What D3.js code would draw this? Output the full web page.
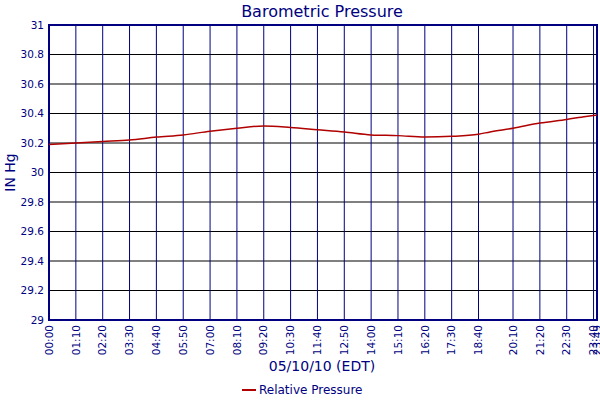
<!DOCTYPE html>
<html><head><meta charset="utf-8">
<script src="https://cdn.jsdelivr.net/npm/d3@7"></script>
<style>body{margin:0;background:#fff}text{font-family:Verdana,"DejaVu Sans",sans-serif}</style>
</head><body><svg id="c" width="600" height="400"></svg>
<script>
// minutes since midnight -> pressure (in Hg)
const times = [0, 70, 140, 210, 280, 350, 420, 490, 560, 630, 700, 770, 840, 910, 980, 1050, 1120, 1150, 1210, 1280, 1350, 1400, 1429];
const values = [30.19, 30.20, 30.21, 30.22, 30.24, 30.255, 30.28, 30.30, 30.315, 30.305, 30.29, 30.275, 30.255, 30.25, 30.24, 30.245, 30.26, 30.275, 30.30, 30.335, 30.36, 30.38, 30.39];
const tickMins = [0,70,140,210,280,350,420,490,560,630,700,770,840,910,980,1050,1120,1210,1280,1350,1420,1429];
const yTicks = [29,29.2,29.4,29.6,29.8,30,30.2,30.4,30.6,30.8,31];

const svg = d3.select("#c");
const margin = {top: 25, right: 3, bottom: 80, left: 49};
const width = 600 - margin.left - margin.right;
const height = 400 - margin.top - margin.bottom;
const navy = "#000080";
const fmt = m => String(Math.floor(m / 60)).padStart(2, "0") + ":" + String(m % 60).padStart(2, "0");

const x = d3.scaleLinear().domain([0, 1429]).range([0, width]);
const y = d3.scaleLinear().domain([29, 31]).range([height, 0]);

const chart = svg.append("g").attr("transform", `translate(${margin.left},${margin.top})`);

// Grid
chart.selectAll(".hg").data(yTicks).enter().append("line")
    .attr("x1", 0).attr("x2", width)
    .attr("y1", d => y(d)).attr("y2", d => y(d))
    .attr("stroke", "#000").attr("stroke-width", 1);
chart.selectAll(".vg").data(tickMins).enter().append("line")
    .attr("x1", d => x(d)).attr("x2", d => x(d))
    .attr("y1", 0).attr("y2", height)
    .attr("stroke", navy).attr("stroke-width", 1);
chart.append("rect").attr("width", width).attr("height", height)
    .attr("fill", "none").attr("stroke", navy).attr("stroke-width", 2);

// Axes labels
chart.selectAll(".yl").data(yTicks).enter().append("text")
    .attr("x", -5).attr("y", d => y(d)).attr("dy", "0.35em")
    .attr("text-anchor", "end").attr("font-size", 10.5).attr("fill", navy)
    .text(d => d3.format("~g")(d));
chart.selectAll(".xl").data(tickMins).enter().append("text")
    .attr("transform", d => `translate(${x(d)},${height + 5}) rotate(-90)`)
    .attr("dy", "0.35em").attr("text-anchor", "end")
    .attr("font-size", 10.5).attr("fill", navy).text(fmt);

// Line
chart.append("path").datum(times.map((t, i) => [t, values[i]]))
    .attr("fill", "none").attr("stroke", "#b00000").attr("stroke-width", 1.5)
    .attr("d", d3.line().x(d => x(d[0])).y(d => y(d[1])).curve(d3.curveMonotoneX));

// Titles
svg.append("text").attr("x", 322).attr("y", 17).attr("text-anchor", "middle")
    .attr("font-size", 16).attr("fill", navy).text("Barometric Pressure");
svg.append("text").attr("x", 322).attr("y", 371).attr("text-anchor", "middle")
    .attr("font-size", 14).attr("fill", navy).text("05/10/10 (EDT)");
svg.append("text").attr("transform", `translate(15,${margin.top + height / 2}) rotate(-90)`)
    .attr("text-anchor", "middle").attr("font-size", 14).attr("fill", navy).text("IN Hg");

// Legend
svg.append("line").attr("x1", 242).attr("x2", 256).attr("y1", 390).attr("y2", 390)
    .attr("stroke", "#b00000").attr("stroke-width", 2);
svg.append("text").attr("x", 259).attr("y", 394).attr("font-size", 12).attr("fill", navy)
    .text("Relative Pressure");
</script></body></html>
